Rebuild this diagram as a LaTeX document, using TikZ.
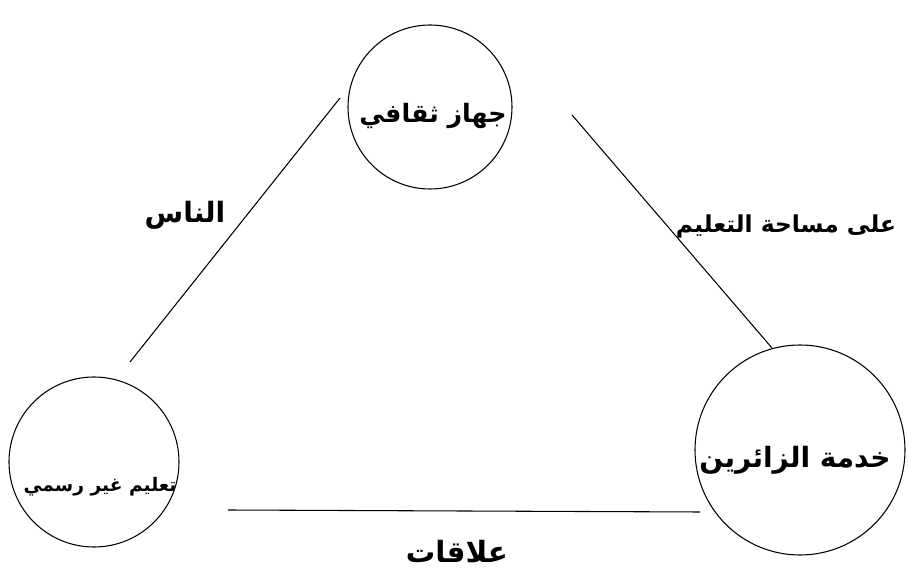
\documentclass[tikz,border=0pt]{standalone}
\usepackage{fontspec}
\TeXXeTstate=1
\newfontfamily\arabicfont[Script=Arabic]{DejaVu Sans}
\begin{document}
\begin{tikzpicture}[x=0.75pt,y=-0.75pt,
  circ/.style={draw,circle,line width=0.8pt,inner sep=0pt},
  conn/.style={line width=0.8pt},
  lbl/.style={font=\arabicfont\bfseries,inner sep=0pt}]
\useasboundingbox (0,0) rectangle (908,584);
% circles
\node[circ,minimum size=164*0.75pt] (top) at (430,107) {};
\node[circ,minimum size=170*0.75pt] (bl) at (94,462) {};
\node[circ,minimum size=210*0.75pt] (br) at (800,450) {};
% texts inside circles
\node[lbl,font=\arabicfont\bfseries\fontsize{19}{22}\selectfont] (ttop) at (433,116) {\beginR جهاز ثقافي\endR};
\node[lbl,font=\arabicfont\bfseries\fontsize{14}{17}\selectfont] (tbl) at (100,487) {\beginR تعليم غير رسمي\endR};
\node[lbl,font=\arabicfont\bfseries\fontsize{21}{24}\selectfont] (tbr) at (795,460) {\beginR خدمة الزائرين\endR};
% connector end points
\coordinate (a1) at (340,98);
\coordinate (a2) at (130,362);
\coordinate (b1) at (572,115);
\coordinate (b2) at (772,348);
\coordinate (c1) at (228,510);
\coordinate (c2) at (700,512);
\draw[conn] (a1) -- (a2);
\draw[conn] (b1) -- (b2);
\draw[conn] (c1) -- (c2);
% edge labels
\node[lbl,font=\arabicfont\bfseries\fontsize{21}{24}\selectfont] (la) at (185,215) {\beginR الناس\endR};
\node[lbl,font=\arabicfont\bfseries\fontsize{17.5}{20}\selectfont] (lb) at (786,226) {\beginR على مساحة التعليم\endR};
\node[lbl,font=\arabicfont\bfseries\fontsize{22}{25}\selectfont] (lc) at (457,552) {\beginR علاقات\endR};
\end{tikzpicture}
\end{document}
